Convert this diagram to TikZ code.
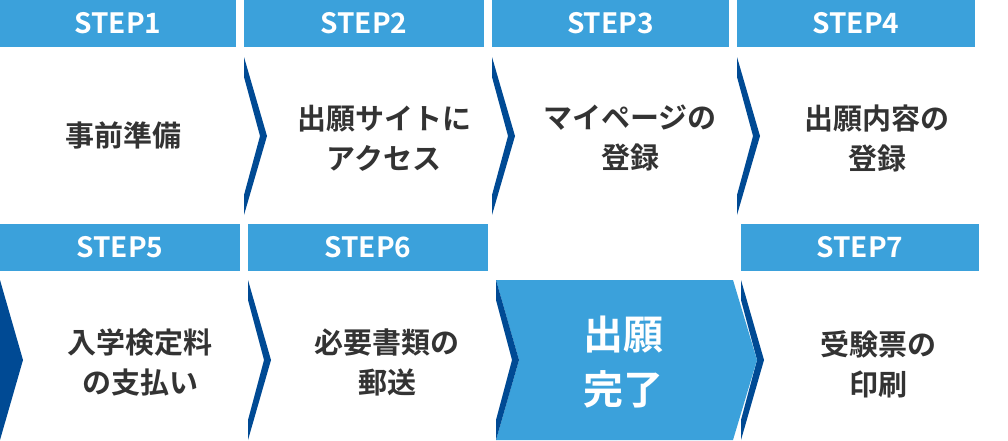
\documentclass[tikz,border=0pt]{standalone}
\usepackage{fontspec}
\setmainfont{Noto Sans CJK JP}[BoldFont={Noto Sans CJK JP Bold}]
\usetikzlibrary{positioning}

\definecolor{stepblue}{HTML}{3BA1DB}
\definecolor{arrowblue}{HTML}{004A94}
\definecolor{textgray}{HTML}{333333}

\tikzset{
    header/.style={fill=stepblue, text=white, inner sep=0pt,
        minimum height=47pt, font=\fontsize{28}{30}\selectfont\bfseries},
    steptext/.style={text=textgray, align=center,
        font=\fontsize{29}{40}\selectfont\bfseries},
    chevron/.style={fill=arrowblue}
}

\begin{document}
\begin{tikzpicture}[x=1pt, y=-1pt]
\useasboundingbox (0,0) rectangle (1008,440);

%-------------------------------
% 1) Header bars
%-------------------------------
\node[header, minimum width=236pt] (h1) at (118,23.5) {STEP1};
\node[header, minimum width=240pt] (h2) at (364,23.5) {STEP2};
\node[header, minimum width=237pt] (h3) at (610.5,23.5) {STEP3};
\node[header, minimum width=238pt] (h4) at (856,23.5) {STEP4};
\node[header, minimum width=240pt] (h5) at (120,247.5) {STEP5};
\node[header, minimum width=240pt] (h6) at (368,247.5) {STEP6};
\node[header, minimum width=238pt] (h7) at (860,247.5) {STEP7};

%-------------------------------
% 2) Chevrons between steps
%-------------------------------
\foreach \x in {244,492,737} {
    \fill[chevron] (\x,57) -- (\x+23,136) -- (\x,215) -- (\x,195)
        -- (\x+16,136) -- (\x,77) -- cycle;
}
\fill[chevron] (0,280) -- (23,360) -- (0,440) -- cycle;
\fill[chevron] (248,280) -- (271,360) -- (248,440) -- (248,420)
    -- (264,360) -- (248,300) -- cycle;
\fill[chevron] (741,280) -- (764,360) -- (741,440) -- (741,420)
    -- (757,360) -- (741,300) -- cycle;

% finished box
\fill[stepblue] (496,280) -- (733,280) -- (757,360) -- (733,440)
    -- (496,440) -- (519,360) -- cycle;
\fill[chevron] (496,280) -- (519,360) -- (496,440) -- (496,420)
    -- (512,360) -- (496,300) -- cycle;

%-------------------------------
% 3) Step texts
%-------------------------------
\node[steptext] (s1) at (123,135) {事前準備};
\node[steptext] (s2) at (384,138) {出願サイトに\\アクセス};
\node[steptext] (s3) at (630,138) {マイページの\\登録};
\node[steptext] (s4) at (877,138) {出願内容の\\登録};
\node[steptext] (s5) at (140,362) {入学検定料\\の支払い};
\node[steptext] (s6) at (387,362) {必要書類の\\郵送};
\node[steptext, text=white, font=\fontsize{40}{55}\selectfont\bfseries]
    (done) at (623,362) {出願\\完了};
\node[steptext] (s7) at (878,364) {受験票の\\印刷};

\end{tikzpicture}
\end{document}
